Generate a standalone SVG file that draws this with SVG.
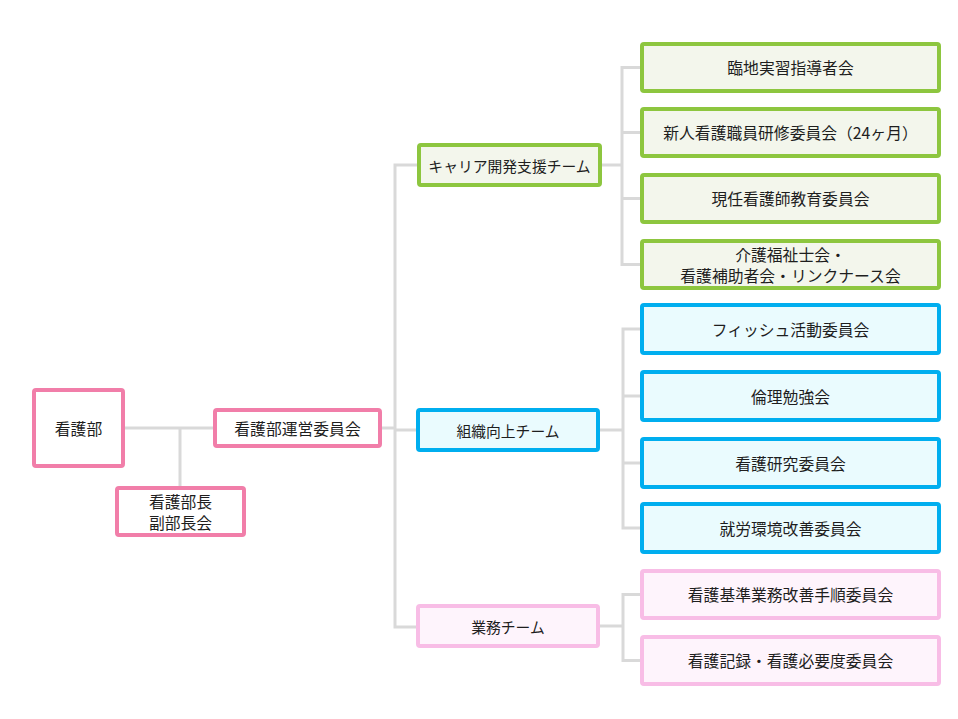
<svg xmlns="http://www.w3.org/2000/svg" width="958" height="719" viewBox="0 0 958 719">
<style>
rect{stroke-width:4}
.pk{fill:#ffffff;stroke:#f17ea9}
.gr{fill:#f3f6ec;stroke:#8dc63f}
.bl{fill:#eafbfe;stroke:#00aeef}
.lp{fill:#fef4fc;stroke:#f8bde6}
text{font-family:"Noto Sans CJK JP","Noto Sans",sans-serif;font-size:15.8px;fill:#1e1e1e;text-anchor:middle;dominant-baseline:central}
text.t{font-size:14.8px}
.c path{fill:none;stroke:#d9d9d9;stroke-width:3}
</style>
<rect width="958" height="719" fill="#ffffff" style="stroke:none"/>
<g class="c" id="connectors">
<path d="M125 428H213M180 428V486M382 428H395"/>
<path d="M417 165H395V627H416M395 430H416"/>
<path d="M602 165H622M640 67.5H622V264.5H640M622 132.5H640M622 198.5H640"/>
<path d="M599 430H623M641 329H623V528H641M623 396H641M623 463H641"/>
<path d="M599 626H623M641 594.5H623V660.5H641"/>
</g>
<g id="n-kangobu"><rect class="pk" x="34" y="390" width="89" height="76" rx="2"/><text x="78.5" y="428">看護部</text></g>
<g id="n-unei"><rect class="pk" x="215" y="410" width="165" height="36" rx="2"/><text x="297.5" y="428">看護部運営委員会</text></g>
<g id="n-buchou"><rect class="pk" x="117" y="488" width="127" height="47" rx="2"/><text x="180.5" y="501">看護部長</text><text x="180.5" y="522">副部長会</text></g>
<g id="n-career"><rect class="gr" x="419" y="145" width="181" height="40" rx="2"/><text class="t" x="509.5" y="165">キャリア開発支援チーム</text></g>
<g id="n-soshiki"><rect class="bl" x="418" y="410" width="180" height="40" rx="2"/><text class="t" x="508" y="430">組織向上チーム</text></g>
<g id="n-gyomu"><rect class="lp" x="418" y="606" width="180" height="40" rx="2"/><text class="t" x="508" y="626">業務チーム</text></g>
<g id="n-g1"><rect class="gr" x="642" y="44" width="297" height="47" rx="2"/><text x="790.5" y="67.5">臨地実習指導者会</text></g>
<g id="n-g2"><rect class="gr" x="642" y="109" width="297" height="47" rx="2"/><text x="790.5" y="132.5">新人看護職員研修委員会（24ヶ月）</text></g>
<g id="n-g3"><rect class="gr" x="642" y="175" width="297" height="47" rx="2"/><text x="790.5" y="198.5">現任看護師教育委員会</text></g>
<g id="n-g4"><rect class="gr" x="642" y="241" width="297" height="47" rx="2"/><text x="790.5" y="254">介護福祉士会・</text><text x="790.5" y="275">看護補助者会・リンクナース会</text></g>
<g id="n-b1"><rect class="bl" x="642" y="305" width="297" height="48" rx="2"/><text x="790.5" y="329">フィッシュ活動委員会</text></g>
<g id="n-b2"><rect class="bl" x="642" y="372" width="297" height="48" rx="2"/><text x="790.5" y="396">倫理勉強会</text></g>
<g id="n-b3"><rect class="bl" x="642" y="439" width="297" height="48" rx="2"/><text x="790.5" y="463">看護研究委員会</text></g>
<g id="n-b4"><rect class="bl" x="642" y="504" width="297" height="48" rx="2"/><text x="790.5" y="528">就労環境改善委員会</text></g>
<g id="n-p1"><rect class="lp" x="642" y="571" width="297" height="47" rx="2"/><text x="790.5" y="594.5">看護基準業務改善手順委員会</text></g>
<g id="n-p2"><rect class="lp" x="642" y="637" width="297" height="47" rx="2"/><text x="790.5" y="660.5">看護記録・看護必要度委員会</text></g>
</svg>
